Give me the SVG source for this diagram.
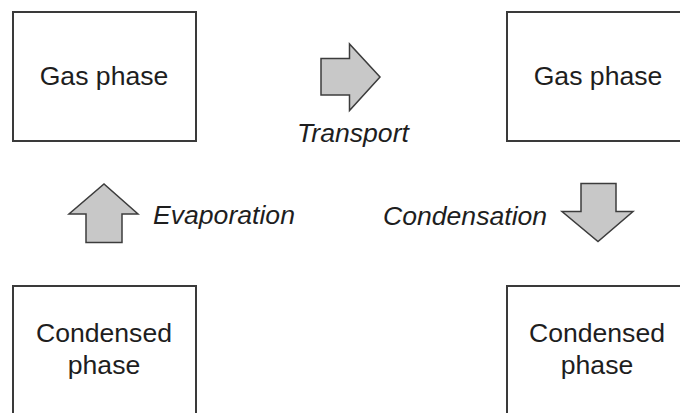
<svg xmlns="http://www.w3.org/2000/svg" width="680" height="413" viewBox="0 0 680 413">
<style>
.box{fill:#fff;stroke:#3a3a3a;stroke-width:2}
.lbl{font-family:"Liberation Sans",Arial,sans-serif;font-size:26.6px;fill:#1e1e1e;text-anchor:middle}
.it{font-family:"Liberation Sans",Arial,sans-serif;font-size:26.6px;font-style:italic;fill:#1e1e1e}
.arr{fill:#c8c8c8;stroke:#3c3c3c;stroke-width:1.5;stroke-linejoin:miter}
</style>
<rect width="680" height="413" fill="#fff"/>
<g id="gas-left">
<rect class="box" x="13" y="12" width="183" height="129"/>
<text class="lbl" x="104" y="85">Gas phase</text>
</g>
<g id="gas-right">
<rect class="box" x="507" y="12" width="185" height="129"/>
<text class="lbl" x="598" y="85">Gas phase</text>
</g>
<g id="cond-left">
<rect class="box" x="13" y="286" width="183" height="140"/>
<text class="lbl" x="104" y="342">Condensed</text>
<text class="lbl" x="104" y="374">phase</text>
</g>
<g id="cond-right">
<rect class="box" x="507" y="286" width="185" height="140"/>
<text class="lbl" x="597" y="342">Condensed</text>
<text class="lbl" x="597" y="374">phase</text>
</g>
<g id="connectors">
<path class="arr" d="M321,58.5 H349.5 V44 L380,77 L349.5,110.5 V95 H321 Z"/>
<text class="it" x="353" y="142" text-anchor="middle">Transport</text>
<path class="arr" d="M86,242.5 V214 H69 L104,184 L138,214 H122 V242.5 Z"/>
<text class="it" x="153" y="224">Evaporation</text>
<path class="arr" d="M581,183.5 H616 V211.5 H633 L598,241.5 L562,211.5 H581 Z"/>
<text class="it" x="383" y="225">Condensation</text>
</g>
</svg>
